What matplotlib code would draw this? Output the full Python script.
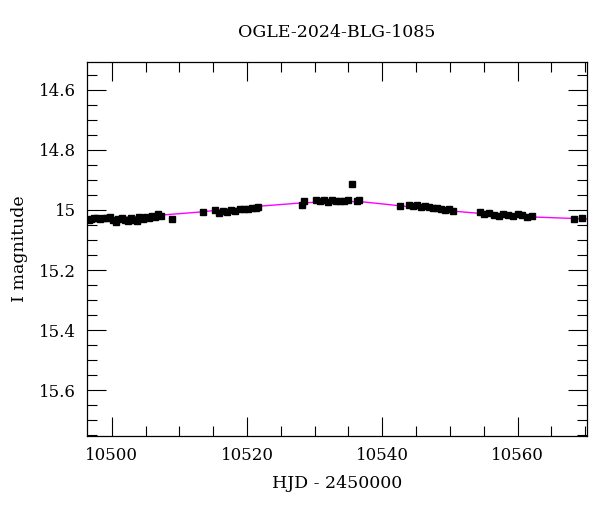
import matplotlib
matplotlib.use("Agg")
import matplotlib.pyplot as plt
from matplotlib.ticker import MultipleLocator

title = "OGLE-2024-BLG-1085"
xlabel = "HJD - 2450000"
ylabel = "I magnitude"

# observed photometry (HJD-2450000, I mag, error)
obs_t = [10496.6, 10497.0, 10497.4, 10497.9, 10498.3, 10498.8, 10499.3, 10499.7,
         10500.2, 10500.6, 10501.0, 10501.5, 10501.9, 10502.4, 10502.8, 10503.3,
         10503.7, 10504.1, 10504.6, 10505.0, 10505.5, 10505.9, 10506.4, 10506.8,
         10507.3, 10508.9,
         10513.5, 10515.3, 10515.9, 10516.5, 10517.1, 10517.7, 10518.3, 10518.9,
         10519.5, 10520.1, 10520.7, 10521.3, 10521.7,
         10528.2, 10528.5, 10530.2, 10530.8, 10531.4, 10532.0, 10532.6, 10533.2,
         10533.8, 10534.4, 10535.0, 10535.6, 10536.2, 10536.6,
         10542.6, 10543.9, 10544.5, 10545.1, 10545.7, 10546.3, 10546.9, 10547.5,
         10548.1, 10548.7, 10549.3, 10549.9, 10550.5,
         10554.4, 10555.1, 10555.8, 10556.5, 10557.2, 10557.9, 10558.6, 10559.3,
         10560.0, 10560.7, 10561.4, 10562.2,
         10568.4, 10569.5]
obs_mag = [15.033, 15.030, 15.028, 15.027, 15.030, 15.026, 15.028, 15.025,
           15.032, 15.040, 15.030, 15.026, 15.035, 15.037, 15.028, 15.032,
           15.036, 15.024, 15.030, 15.022, 15.027, 15.019, 15.025, 15.012,
           15.020, 15.030,
           15.006, 14.999, 15.010, 15.004, 15.008, 15.000, 15.004, 14.998,
           14.997, 14.996, 14.992, 14.994, 14.990,
           14.985, 14.970, 14.967, 14.970, 14.968, 14.972, 14.966, 14.970,
           14.969, 14.971, 14.967, 14.913, 14.970, 14.966,
           14.988, 14.984, 14.987, 14.984, 14.990, 14.986, 14.991, 14.995,
           14.992, 14.997, 15.000, 14.996, 15.005,
           15.007, 15.012, 15.010, 15.016, 15.020, 15.014, 15.016, 15.019,
           15.015, 15.018, 15.022, 15.020,
           15.030, 15.028]
obs_err = [0.007, 0.006, 0.006, 0.006, 0.006, 0.006, 0.006, 0.006,
           0.006, 0.006, 0.006, 0.006, 0.006, 0.006, 0.006, 0.006,
           0.006, 0.006, 0.006, 0.006, 0.006, 0.006, 0.006, 0.006,
           0.006, 0.005,
           0.007, 0.007, 0.006, 0.006, 0.006, 0.006, 0.006, 0.006,
           0.006, 0.006, 0.006, 0.006, 0.006,
           0.007, 0.007, 0.006, 0.006, 0.006, 0.006, 0.006, 0.006,
           0.006, 0.006, 0.006, 0.004, 0.006, 0.006,
           0.010, 0.006, 0.006, 0.006, 0.006, 0.006, 0.006, 0.006,
           0.006, 0.006, 0.006, 0.006, 0.006,
           0.006, 0.006, 0.006, 0.006, 0.006, 0.006, 0.006, 0.006,
           0.006, 0.006, 0.006, 0.006,
           0.005, 0.005]

# model curve
mod_t = [10496.4, 10505.7, 10513.0, 10520.4, 10527.8, 10532.3, 10536.7,
         10542.6, 10550.0, 10557.4, 10563.0, 10570.2]
mod_mag = [15.030, 15.020, 15.007, 14.990, 14.977, 14.972, 14.972,
           14.986, 15.003, 15.017, 15.024, 15.030]

plt.rcParams["font.family"] = ["DejaVu Serif"]

fig = plt.figure(figsize=(6.0, 5.12), dpi=100)
ax = fig.add_axes([0.145, 0.1484, 0.8325, 0.7306])

ax.plot(mod_t, mod_mag, color="#ff00ff", lw=1.0, zorder=1)
ax.errorbar(obs_t, obs_mag, yerr=obs_err, fmt="s", color="black",
            markersize=4.3, elinewidth=1.6, capsize=0, zorder=2)

ax.set_xlim(10496.35, 10570.2)
ax.set_ylim(15.753, 14.507)

ax.xaxis.set_major_locator(MultipleLocator(20))
ax.xaxis.set_minor_locator(MultipleLocator(5))
ax.yaxis.set_major_locator(MultipleLocator(0.2))
ax.yaxis.set_minor_locator(MultipleLocator(0.05))
ax.yaxis.set_major_formatter(plt.FuncFormatter(lambda v, p: f"{v:g}"))

ax.tick_params(which="both", direction="in", top=True, right=True,
               labelsize=12, colors="black")
ax.tick_params(which="major", length=13.5, width=0.8, pad=8)
ax.tick_params(which="minor", length=7, width=0.8)
for s in ax.spines.values():
    s.set_linewidth(0.9)

ax.set_title(title, fontsize=12.5, pad=18)
ax.set_xlabel(xlabel, fontsize=12.5, labelpad=8)
ax.set_ylabel(ylabel, fontsize=12.5, labelpad=8)

fig.savefig("out.png", dpi=100)
